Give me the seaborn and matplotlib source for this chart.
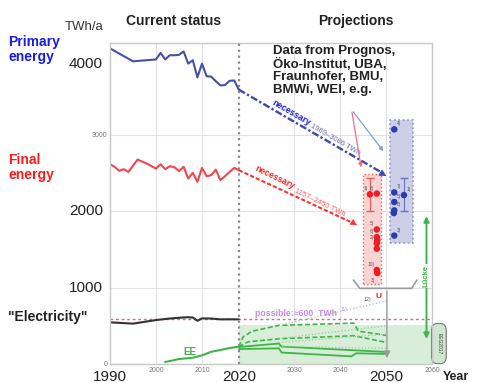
import numpy as np
import pandas as pd
import seaborn as sns
import matplotlib.pyplot as plt
from matplotlib.patches import Rectangle, FancyBboxPatch

# historic series, TWh/a
primary_years = [1990, 1995, 2000, 2001, 2002, 2003, 2004, 2005, 2006, 2007, 2008,
                 2009, 2010, 2011, 2012, 2013, 2014, 2015, 2016, 2017, 2018]
primary_twh = [4130, 3960, 3985, 4070, 3985, 4040, 4040, 4045, 4090, 3930, 3975,
               3750, 3930, 3765, 3760, 3700, 3645, 3650, 3705, 3710, 3590]

final_years = [1990, 1991, 1992, 1993, 1994, 1996, 1998, 2000, 2001, 2002, 2003, 2004, 2005,
               2006, 2007, 2008, 2009, 2010, 2011, 2012, 2013, 2014, 2015, 2016, 2017, 2018]
final_twh = [2614, 2580, 2527, 2549, 2514, 2675, 2622, 2557, 2614, 2549, 2588, 2575, 2523,
             2580, 2427, 2501, 2383, 2566, 2458, 2470, 2544, 2405, 2458, 2514, 2566, 2536]

elec_years = [1990, 1993, 1995, 2000, 2003, 2005, 2007, 2008, 2009, 2010, 2012, 2014, 2016, 2018]
elec_twh = [545, 535, 528, 575, 595, 605, 612, 608, 566, 597, 595, 584, 585, 584]

ee_years = [2002, 2005, 2008, 2010, 2012, 2014, 2016, 2018]
ee_twh = [26, 65, 82, 113, 160, 183, 209, 226]

# renewable scenarios 2018-2050
ee_solid1_years = [2018, 2026.7, 2027.3, 2043.5, 2050]
ee_solid1_twh = [222, 268, 228, 178, 158]
ee_solid2_years = [2018, 2026.7, 2027.3, 2042.5, 2043.5, 2050]
ee_solid2_twh = [195, 205, 150, 100, 140, 132]
ee_dash1_years = [2018, 2019, 2021, 2026.7, 2043, 2044, 2050]
ee_dash1_twh = [225, 360, 430, 505, 535, 430, 375]
ee_dash2_years = [2018, 2020, 2026.7, 2043, 2050]
ee_dash2_twh = [225, 290, 330, 370, 283]
ee_dot_start = [505, 335, 280, 230]
ee_dot_end = [823, 500, 392, 205]

# projections for 2050
final_2050_x = [2046.5, 2048, 2048, 2048, 2048.1, 2048, 2048, 2048, 2048.1]
final_2050_twh = [2220, 2230, 1760, 1660, 1620, 1580, 1510, 1230, 1190]
final_2050_ref = ['1)', '8)', '5)', '6)', '', '2)', '', '10)', '3)']

primary_2050_x = [2051.8, 2051.8, 2053.9, 2051.8, 2051.8, 2051.7, 2051.8]
primary_2050_twh = [3070, 2245, 2210, 2120, 2010, 1975, 1680]
primary_2050_ref = ['4)', '7)', '1)', '5)', '6)', '', '3)']

possible_elec = 590
eeg2017_limit = 510

BLUE = '#4650a6'
RED = '#f2464f'
GREEN = '#3db54a'

sns.set_style('white')
plt.rcParams['font.family'] = ['Liberation Sans', 'DejaVu Sans']

fig = plt.figure(figsize=(4.86, 3.83), dpi=100)
ax = fig.add_axes([110 / 486, 1 - 364 / 383, 322 / 486, 321 / 383])
ax.set_xlim(1990, 2060)
ax.set_ylim(0, 4200)

# grid and frame
ax.set_xticks([2000, 2010, 2030, 2040, 2050, 2060])
ax.set_xticklabels(['2000', '2010', '2030', '2040', '', '2060'], fontsize=5, color='#777')
ax.set_yticks([0, 1000, 2000, 3000])
ax.set_yticklabels(['0', '', '', '3000'], fontsize=5, color='#777')
ax.tick_params(length=0, pad=2)
ax.grid(True, color='#e2e2e2', lw=0.8)
for sp in ax.spines.values():
    sp.set_color('#c8c8c8')
    sp.set_linewidth(1)

for yr, txt in [(1990, '1990'), (2018, '2020'), (2050, '2050')]:
    ax.text(yr, -0.018, txt, transform=ax.get_xaxis_transform(), ha='center', va='top',
            fontsize=11, color='#222', clip_on=False)
for v, txt in [(3930, '4000'), (2000, '2000'), (1000, '1000')]:
    ax.text(-0.022, v, txt, transform=ax.get_yaxis_transform(), ha='right', va='center',
            fontsize=11, color='#222')

# EEG 2017 corridor
ax.fill_between([2018, 2060], 0, eeg2017_limit, color='#d9eed9', lw=0, zorder=0.5)
ax.add_patch(FancyBboxPatch((2059.9, 5), 3.2, 525, boxstyle='round,pad=0,rounding_size=1.2',
                            mutation_aspect=80, fc='#cfe7cf', ec='#777', lw=0.8, clip_on=False))
ax.text(2061.5, 265, 'EEG2017', rotation=-90, fontsize=3.5, ha='center', va='center',
        color='#333', clip_on=False)

ax.axvline(2018, color='#8a8a8a', ls=':', lw=1.6, zorder=3)
ax.axhline(possible_elec, color='#e05ab8', ls=(0, (2, 2)), lw=1, zorder=2)

# history
sns.lineplot(x=primary_years, y=primary_twh, ax=ax, color=BLUE, lw=1.5, estimator=None)
sns.lineplot(x=final_years, y=final_twh, ax=ax, color=RED, lw=1.5, estimator=None)
sns.lineplot(x=elec_years, y=elec_twh, ax=ax, color='#333', lw=1.5, estimator=None)
sns.lineplot(x=ee_years, y=ee_twh, ax=ax, color=GREEN, lw=1.5, estimator=None)

# renewable scenarios
sns.lineplot(x=ee_solid1_years, y=ee_solid1_twh, ax=ax, color=GREEN, lw=1.3, estimator=None)
sns.lineplot(x=ee_solid2_years, y=ee_solid2_twh, ax=ax, color=GREEN, lw=1.3, estimator=None)
sns.lineplot(x=ee_dash1_years, y=ee_dash1_twh, ax=ax, color=GREEN, lw=1.2,
             linestyle=(0, (3, 1.5)), estimator=None)
sns.lineplot(x=ee_dash2_years, y=ee_dash2_twh, ax=ax, color=GREEN, lw=1.2,
             linestyle=(0, (3, 1.5)), estimator=None)
for s, e in zip(ee_dot_start, ee_dot_end):
    sns.lineplot(x=[2026.7, 2050], y=[s, e], ax=ax, color='#8fd38f', lw=0.9,
                 linestyle=':', estimator=None)
ax.text(2007.4, 160, 'EE', color=GREEN, fontsize=7, fontweight='bold', ha='center', va='center')

# projection boxes
ax.add_patch(Rectangle((2045.1, 1050), 3.8, 1440, fc='#fbd3d3', ec='#f06060', ls=':', lw=1, zorder=1))
ax.add_patch(Rectangle((2050.9, 1585), 5.0, 1605, fc='#cdcfe9', ec='#8a8fd0', ls=':', lw=1.2, zorder=1))

ax.errorbar([2046.5], [2220], yerr=[[220], [210]], fmt='none', ecolor='#e85a5a', capsize=3, lw=0.8)
ax.errorbar([2053.9], [2210], yerr=[[210], [220]], fmt='none', ecolor='#6a70c0', capsize=3, lw=0.8)
sns.scatterplot(x=final_2050_x, y=final_2050_twh, ax=ax, color='#ee1c24', s=22, edgecolor='none', zorder=5)
sns.scatterplot(x=primary_2050_x, y=primary_2050_twh, ax=ax, color='#2b3ea8', s=22, edgecolor='none', zorder=5)
for x, v, r in zip(final_2050_x, final_2050_twh, final_2050_ref):
    dy = -60 if r == '3)' else 40
    ax.text(x - 0.5, v + dy, r, fontsize=3.5, color='#555', ha='right',
            va='top' if dy < 0 else 'bottom')
for x, v, r in zip(primary_2050_x, primary_2050_twh, primary_2050_ref):
    ax.text(x + 0.5, v + 40, r, fontsize=3.5, color='#555', ha='left', va='bottom')

# "necessary" arrows
ax.plot([2018, 2049.5], [3590, 2490], color='#3b48b0', lw=1.7, ls=(0, (3, 1, 1, 1)))
ax.annotate('', xy=(2050.6, 2440), xytext=(2048.5, 2515),
            arrowprops=dict(arrowstyle='-|>', color='#3b48b0', mutation_scale=11, lw=0.5))
ax.plot([2018, 2043], [2536, 1840], color='#ff3030', lw=1.5, ls=(0, (2, 1)))
ax.annotate('', xy=(2044.2, 1795), xytext=(2042.5, 1860),
            arrowprops=dict(arrowstyle='-|>', color='#ff3030', mutation_scale=10, lw=0.5))
ax.text(2029.5, 3290, 'necessary', rotation=-30, color='#1a1aee', fontsize=6.3,
        fontweight='bold', ha='center', va='center', rotation_mode='anchor')
ax.text(2039.0, 2930, '1969–3086 TWh', rotation=-30, color='#6a6fb0', fontsize=5.5,
        ha='center', va='center', rotation_mode='anchor')
ax.text(2025.9, 2440, 'necessary', rotation=-26, color='#ff2020', fontsize=6.3,
        fontweight='bold', ha='center', va='center', rotation_mode='anchor')
ax.text(2035.6, 2105, '1157–2450 TWh', rotation=-26, color='#ff5a5a', fontsize=5.5,
        ha='center', va='center', rotation_mode='anchor')

# thin source arrows
ax.annotate('', xy=(2049.8, 2754), xytext=(2042.5, 3330),
            arrowprops=dict(arrowstyle='-|>', color='#7ea0d8', lw=0.9, mutation_scale=6))
ax.annotate('', xy=(2044.7, 2536), xytext=(2042.5, 3330),
            arrowprops=dict(arrowstyle='-|>', color='#f07080', lw=0.9, mutation_scale=6))

# bracket, gray arrow and gap
ax.plot([2042.9, 2044.3, 2055.6, 2056.7], [1098, 990, 990, 1098], color='#9a9a9a', lw=1.2)
ax.annotate('', xy=(2050.2, 40), xytext=(2050.2, 990),
            arrowprops=dict(arrowstyle='-|>', color='#9a9a9a', lw=1, mutation_scale=10))
ax.text(2045.9, 850, '12)', fontsize=3.8, color='#555', ha='center', va='center')
ax.text(2048.3, 880, 'U', fontsize=6, color='#ee1c24', fontweight='bold', ha='center', va='center')
ax.annotate('', xy=(2058.8, 292), xytext=(2058.8, 1970),
            arrowprops=dict(arrowstyle='<|-|>', color=GREEN, lw=1.4, mutation_scale=8))
ax.text(2058.8, 1150, 'Lücke', rotation=90, color=GREEN, fontsize=5.5, fontweight='bold',
        ha='center', va='center', bbox=dict(fc='white', ec='none', pad=0.5))

ax.text(2021.5, 662, 'possible:≈600  TWh', color='#c58af0', fontsize=6.3,
        fontweight='bold', ha='left', va='center')
ax.text(2040.2, 712, '11)', color='#c58af0', fontsize=3.5, ha='left', va='center')

# figure labels
fig.text(84 / 486, 1 - 27 / 383, 'TWh/a', fontsize=9.5, color='#333', ha='center', va='center')
fig.text(8 / 486, 1 - 35 / 383, 'Primary\nenergy', fontsize=10, fontweight='bold',
         color='#1a1ae6', ha='left', va='top', linespacing=1.05)
fig.text(8 / 486, 1 - 153 / 383, 'Final\nenergy', fontsize=10, fontweight='bold',
         color='#ff1a1a', ha='left', va='top', linespacing=1.05)
fig.text(8 / 486, 1 - 317 / 383, '"Electricity"', fontsize=10, fontweight='bold',
         color='#222', ha='left', va='center')
fig.text(174 / 486, 1 - 21 / 383, 'Current status', fontsize=10, fontweight='bold',
         color='#222', ha='center', va='center')
fig.text(356 / 486, 1 - 21 / 383, 'Projections', fontsize=10, fontweight='bold',
         color='#222', ha='center', va='center')
fig.text(273 / 486, 1 - 45 / 383, 'Data from Prognos,\nÖko-Institut, UBA,\nFraunhofer, BMU,\nBMWi, WEI, e.g.',
         fontsize=9.5, fontweight='bold', color='#222', ha='left', va='top', linespacing=1.06)
fig.text(443 / 486, 1 - 377 / 383, 'Year', fontsize=9, fontweight='bold', color='#222',
         ha='left', va='center')

fig.savefig('out.png', dpi=100)
